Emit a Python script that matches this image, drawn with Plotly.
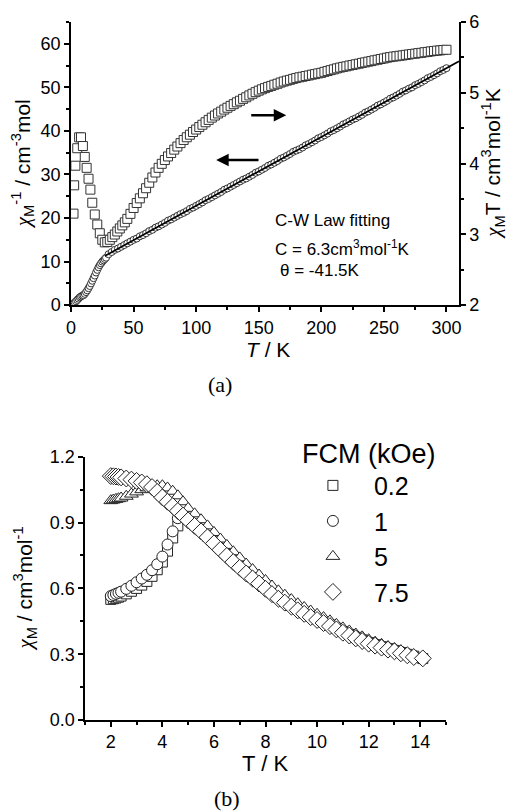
import plotly.graph_objects as go

# ---------------- Panel (a) data ----------------
# chi_M T (right axis), squares
T_sq = [2, 2.5, 3.5, 5, 6.5, 8, 9.5, 11, 12.5, 14, 15.5, 17, 19, 21, 23, 25, 27, 29, 31, 33,
        35, 37, 39, 41, 43, 45, 47.5,
        50, 52.5, 55, 57.5, 60, 62.5, 65, 67.5, 70, 72.5, 75, 77.5, 80, 82.5, 85, 87.5, 90,
        92.5, 95, 97.5, 100, 102.5, 105, 107.5, 110, 112.5, 115, 117.5, 120, 122.5, 125,
        127.5, 130, 132.5, 135, 137.5, 140, 142.5, 145, 147.5, 150, 152.5, 155, 157.5, 160,
        162.5, 165, 167.5, 170, 172.5, 175, 177.5, 180, 182.5, 185, 187.5, 190, 192.5, 195,
        197.5, 200, 202.5, 205, 207.5, 210, 212.5, 215, 217.5, 220, 222.5, 225, 227.5, 230,
        232.5, 235, 237.5, 240, 242.5, 245, 247.5, 250, 252.5, 255, 257.5, 260, 262.5, 265,
        267.5, 270, 272.5, 275, 277.5, 280, 282.5, 285, 287.5, 290, 292.5, 295, 297.5, 300]
chiT_sq = [3.293, 3.693, 3.970, 4.217, 4.371, 4.371, 4.248, 4.094, 3.940, 3.786, 3.632, 3.447,
           3.281, 3.139, 3.016, 2.924, 2.887, 2.893, 2.924, 2.961, 2.998, 3.041, 3.084, 3.127,
           3.170, 3.219, 3.290,
           3.373, 3.443, 3.509, 3.581, 3.652, 3.729, 3.804, 3.874, 3.940, 3.997, 4.050, 4.101,
           4.149, 4.197, 4.241, 4.289, 4.334, 4.372, 4.408, 4.446, 4.481, 4.516, 4.549, 4.584,
           4.617, 4.649, 4.679, 4.708, 4.734, 4.763, 4.789, 4.815, 4.839, 4.865, 4.888, 4.914,
           4.937, 4.963, 4.986, 5.009, 5.030, 5.049, 5.066, 5.083, 5.097, 5.114, 5.128, 5.145,
           5.159, 5.172, 5.183, 5.197, 5.208, 5.219, 5.227, 5.237, 5.245, 5.256, 5.264, 5.274,
           5.282, 5.296, 5.307, 5.320, 5.331, 5.345, 5.356, 5.366, 5.374, 5.385, 5.393, 5.403,
           5.411, 5.422, 5.430, 5.440, 5.448, 5.459, 5.467, 5.477, 5.485, 5.496, 5.504, 5.511,
           5.516, 5.523, 5.528, 5.536, 5.541, 5.548, 5.553, 5.560, 5.565, 5.573, 5.578, 5.585,
           5.590, 5.596, 5.599, 5.605, 5.608]

# chi_M^-1 (left axis), circles
T_ci = [2, 3, 4, 5, 6, 7, 8, 9, 10, 11, 12, 13, 14, 15, 16, 17, 18, 19, 20, 21, 22, 23, 24,
        25, 26, 27, 28, 30, 32.5, 35, 37.5, 40, 42.5, 45, 47.5, 50, 52.5, 55, 57.5, 60, 62.5,
        65, 67.5, 70, 72.5, 75, 77.5, 80, 82.5, 85, 87.5, 90, 92.5, 95, 97.5, 100, 102.5, 105,
        107.5, 110, 112.5, 115, 117.5, 120, 122.5, 125, 127.5, 130, 132.5, 135, 137.5, 140,
        142.5, 145, 147.5, 150, 152.5, 155, 157.5, 160, 162.5, 165, 167.5, 170, 172.5, 175,
        177.5, 180, 182.5, 185, 187.5, 190, 192.5, 195, 197.5, 200, 202.5, 205, 207.5, 210,
        212.5, 215, 217.5, 220, 222.5, 225, 227.5, 230, 232.5, 235, 237.5, 240, 242.5, 245,
        247.5, 250, 252.5, 255, 257.5, 260, 262.5, 265, 267.5, 270, 272.5, 275, 277.5, 280,
        282.5, 285, 287.5, 290, 292.5, 295, 297.5, 300]
inv_chi_ci = [0.4, 0.6, 0.9, 1.2, 1.5, 1.8, 2.0, 2.2, 2.3, 2.6, 3.0, 3.4, 3.9, 4.4, 5.0, 5.6,
              6.2, 6.8, 7.5, 8.1, 8.7, 9.2, 9.6, 10.0, 10.3, 10.6, 10.9, 11.7, 12.2, 12.7,
              13.0, 13.4, 13.8, 14.2, 14.6, 15.0, 15.3, 15.8, 16.1, 16.5, 17.0, 17.3, 17.8,
              18.1, 18.5, 18.9, 19.4, 19.7, 20.1, 20.5, 20.9, 21.2, 21.6, 22.1, 22.4, 22.8,
              23.2, 23.6, 24.1, 24.4, 24.8, 25.2, 25.6, 26.0, 26.5, 26.8, 27.2, 27.6, 28.0,
              28.4, 28.8, 29.1, 29.5, 29.9, 30.4, 30.7, 31.1, 31.5, 32.0, 32.3, 32.7, 33.1,
              33.6, 33.9, 34.3, 34.7, 35.2, 35.5, 35.8, 36.2, 36.7, 37.0, 37.4, 37.8, 38.3,
              38.6, 39.0, 39.4, 39.9, 40.2, 40.6, 41.0, 41.5, 41.8, 42.2, 42.6, 42.9, 43.3,
              43.7, 44.2, 44.5, 44.9, 45.3, 45.8, 46.1, 46.5, 46.9, 47.4, 47.7, 48.1, 48.5,
              49.0, 49.3, 49.7, 50.0, 50.5, 50.8, 51.2, 51.6, 52.1, 52.4, 52.8, 53.2, 53.7,
              54.0, 54.4]

# Curie-Weiss fit line
T_fit = [27, 310]
inv_chi_fit = [11.3, 56.0]

# arrows (T, chi^-1): tail -> head
arrow_right = [(142.8, 43.6), (172.0, 43.6)]
arrow_left = [(151.0, 33.3), (116.0, 33.3)]

# ---------------- Panel (b) data ----------------
T_b = [2.0, 2.1, 2.2, 2.3, 2.4, 2.6, 2.8, 3.0, 3.2, 3.4, 3.6, 3.8, 4.0, 4.2, 4.4, 4.6, 4.8,
       5.0, 5.25, 5.5, 5.75, 6.0, 6.25, 6.5, 6.75, 7.0, 7.25, 7.5, 7.75, 8.0, 8.25, 8.5, 8.75,
       9.0, 9.25, 9.5, 9.75, 10.0, 10.25, 10.5, 10.75, 11.0, 11.25, 11.5, 11.75, 12.0, 12.25,
       12.5, 12.75, 13.0, 13.25, 13.5, 13.75, 14.1]
chi_02 = [0.550, 0.553, 0.556, 0.560, 0.565, 0.575, 0.587, 0.600, 0.615, 0.632, 0.655, 0.685,
          0.720, 0.770, 0.830, 0.885, 0.925, 0.915, 0.890, 0.865, 0.838, 0.810, 0.781, 0.753,
          0.725, 0.699, 0.673, 0.650, 0.627, 0.603, 0.579, 0.558, 0.540, 0.522, 0.505, 0.489,
          0.474, 0.461, 0.447, 0.433, 0.418, 0.403, 0.390, 0.377, 0.365, 0.353, 0.343, 0.334,
          0.325, 0.317, 0.308, 0.299, 0.291, 0.280]
chi_1 = [0.565, 0.570, 0.575, 0.580, 0.585, 0.598, 0.612, 0.628, 0.645, 0.662, 0.683, 0.710,
         0.745, 0.800, 0.860, 0.920, 0.935, 0.918, 0.893, 0.868, 0.841, 0.813, 0.784, 0.756,
         0.728, 0.702, 0.676, 0.653, 0.630, 0.606, 0.582, 0.561, 0.543, 0.525, 0.508, 0.492,
         0.477, 0.464, 0.450, 0.436, 0.421, 0.406, 0.393, 0.380, 0.368, 0.356, 0.346, 0.337,
         0.328, 0.320, 0.311, 0.302, 0.293, 0.284]
chi_5 = [1.000, 1.003, 1.006, 1.009, 1.012, 1.020, 1.030, 1.040, 1.050, 1.058, 1.064, 1.068,
         1.068, 1.058, 1.043, 1.022, 0.995, 0.965, 0.940, 0.913, 0.885, 0.855, 0.825, 0.796,
         0.767, 0.739, 0.711, 0.686, 0.661, 0.636, 0.611, 0.589, 0.569, 0.549, 0.530, 0.513,
         0.497, 0.482, 0.467, 0.452, 0.436, 0.420, 0.406, 0.392, 0.379, 0.366, 0.355, 0.345,
         0.335, 0.326, 0.316, 0.306, 0.297, 0.287]
chi_75 = [1.112, 1.111, 1.110, 1.108, 1.106, 1.101, 1.096, 1.090, 1.083, 1.075, 1.062, 1.040,
          1.015, 0.995, 0.975, 0.953, 0.932, 0.910, 0.885, 0.860, 0.833, 0.805, 0.776, 0.748,
          0.720, 0.694, 0.668, 0.645, 0.622, 0.598, 0.574, 0.553, 0.535, 0.517, 0.500, 0.484,
          0.469, 0.456, 0.442, 0.428, 0.413, 0.398, 0.385, 0.372, 0.360, 0.348, 0.339, 0.330,
          0.321, 0.313, 0.304, 0.295, 0.287, 0.281]
series_names = ["0.2", "1", "5", "7.5"]

FONT = "Liberation Sans, Arial, sans-serif"
SERIF = "Liberation Serif, Times New Roman, serif"
EDGE = "#222222"
CHI = '<span style="font-family:Liberation Serif"><i>χ</i></span>'

fig = go.Figure()

# panel (a)
fig.add_trace(go.Scatter(x=T_ci, y=inv_chi_ci, xaxis="x", yaxis="y", mode="markers",
                         marker=dict(symbol="circle", size=7, color="white",
                                     line=dict(color="#333333", width=1)),
                         showlegend=False))
fig.add_trace(go.Scatter(x=T_fit, y=inv_chi_fit, xaxis="x", yaxis="y", mode="lines",
                         line=dict(color="black", width=1.8), showlegend=False))
fig.add_trace(go.Scatter(x=T_sq, y=chiT_sq, xaxis="x", yaxis="y2", mode="markers",
                         marker=dict(symbol="square", size=9, color="white",
                                     line=dict(color="#333333", width=1)),
                         showlegend=False))

# panel (b)
symbols = ["square", "circle", "triangle-up", "diamond"]
sizes = [10, 11, 12, 13]
for name, ys, sym, sz in zip(series_names, [chi_02, chi_1, chi_5, chi_75], symbols, sizes):
    fig.add_trace(go.Scatter(x=T_b, y=ys, xaxis="x2", yaxis="y3", mode="markers", name=name,
                             marker=dict(symbol=sym, size=sz, color="white",
                                         line=dict(color=EDGE, width=1))))

axis_common = dict(showgrid=False, zeroline=False, showline=True, linecolor="black",
                   linewidth=1.5, ticks="outside", ticklen=5, tickwidth=1.5,
                   tickcolor="black", tickfont=dict(family=FONT, size=18, color="black"))

def minor(d, side="outside"):
    return dict(ticks=side, ticklen=3, tickwidth=1.5, tickcolor="black", dtick=d)

fig.update_layout(
    width=512, height=811,
    margin=dict(l=71, r=53, t=20, b=91),
    paper_bgcolor="white", plot_bgcolor="white",
    font=dict(family=FONT, color="black"),
    xaxis=dict(domain=[0, 1], anchor="y", range=[0, 310], tick0=0, dtick=50,
               minor=minor(25), **axis_common),
    xaxis3=dict(overlaying="x", side="top", anchor="y", range=[0, 310], tick0=0, dtick=50,
                showticklabels=False, showgrid=False, zeroline=False, showline=True,
                linecolor="black", linewidth=1.5, ticks="inside", ticklen=5, tickwidth=1.5,
                tickcolor="black", minor=minor(25, "inside")),
    yaxis=dict(domain=[0.5943, 1], anchor="x", range=[0, 65], tick0=0, dtick=10,
               minor=minor(5), **axis_common),
    yaxis2=dict(overlaying="y", side="right", anchor="x", range=[2, 6], tick0=2, dtick=1,
                minor=minor(0.5), **axis_common),
    xaxis2=dict(domain=[0.0361, 0.9665], anchor="y3", range=[1, 15], tick0=0, dtick=2,
                minor=minor(1), **axis_common),
    yaxis3=dict(domain=[0, 0.3771], anchor="x2", range=[0, 1.2], tick0=0, dtick=0.3,
                tickformat=".1f", minor=minor(0.15), **axis_common),
    legend=dict(x=0.59, y=0.419, xanchor="left", yanchor="top",
                title=dict(text="FCM (kOe)", font=dict(family=FONT, size=27, color="black")),
                font=dict(family=FONT, size=25, color="black"),
                bgcolor="rgba(0,0,0,0)", itemwidth=72, indentation=-8,
                tracegroupgap=0),
)

ann = []
# axis titles (a)
ann.append(dict(text=CHI + "<sub>M</sub><sup>-1</sup> / cm<sup>-3</sup>mol", xref="paper",
                yref="paper", x=-0.125, y=0.797, textangle=-90, showarrow=False,
                font=dict(family=FONT, size=21), xanchor="center", yanchor="middle"))
ann.append(dict(text=CHI + "<sub>M</sub>T / cm<sup>3</sup>mol<sup>-1</sup>K", xref="paper",
                yref="paper", x=1.088, y=0.797, textangle=-90, showarrow=False,
                font=dict(family=FONT, size=21), xanchor="center", yanchor="middle"))
ann.append(dict(text="<i>T</i> / K", xref="paper", yref="paper", x=0.508, y=0.531,
                showarrow=False, font=dict(family=FONT, size=21),
                xanchor="center", yanchor="middle"))
ann.append(dict(text="(a)", xref="paper", yref="paper", x=0.384, y=0.481,
                showarrow=False, font=dict(family=SERIF, size=22),
                xanchor="center", yanchor="middle"))
# fitting text
ann.append(dict(text="C-W Law fitting", xref="paper", yref="paper", x=0.52, y=0.715,
                showarrow=False, font=dict(family=FONT, size=17), xanchor="left", yanchor="middle"))
ann.append(dict(text="C = 6.3cm<sup>3</sup>mol<sup>-1</sup>K", xref="paper", yref="paper",
                x=0.52, y=0.676, showarrow=False, font=dict(family=FONT, size=17),
                xanchor="left", yanchor="middle"))
ann.append(dict(text="θ = -41.5K", xref="paper", yref="paper", x=0.533, y=0.644,
                showarrow=False, font=dict(family=FONT, size=17), xanchor="left", yanchor="middle"))
# arrows
for (tx, ty), (hx, hy) in [arrow_right, arrow_left]:
    ann.append(dict(x=hx, y=hy, ax=tx, ay=ty, xref="x", yref="y", axref="x", ayref="y",
                    text="", showarrow=True, arrowhead=2, arrowsize=1.0, arrowwidth=2.5,
                    arrowcolor="black"))
# axis titles (b)
ann.append(dict(text=CHI + "<sub>M</sub> / cm<sup>3</sup>mol<sup>-1</sup>", xref="paper",
                yref="paper", x=-0.12, y=0.189, textangle=-90, showarrow=False,
                font=dict(family=FONT, size=21), xanchor="center", yanchor="middle"))
ann.append(dict(text="T / K", xref="paper", yref="paper", x=0.499, y=-0.063,
                showarrow=False, font=dict(family=FONT, size=22),
                xanchor="center", yanchor="middle"))
ann.append(dict(text="(b)", xref="paper", yref="paper", x=0.402, y=-0.113,
                showarrow=False, font=dict(family=SERIF, size=22),
                xanchor="center", yanchor="middle"))
fig.update_layout(annotations=ann)

fig.write_html("out.html", config={"displayModeBar": False},
               post_script="document.body.style.margin='0px';")
